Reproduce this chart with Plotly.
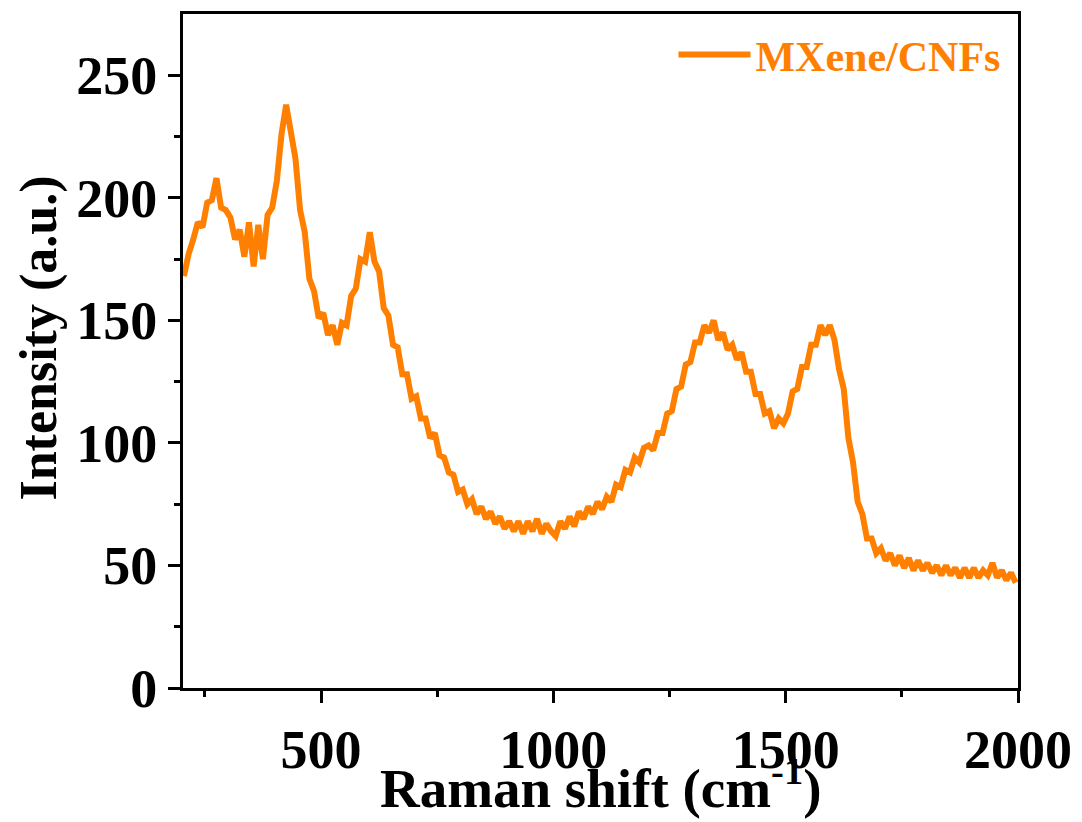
import plotly.graph_objects as go

raman_shift = list(range(205, 2005, 10))

intensity = [
    168, 177, 183, 190, 188, 198, 199, 208, 196, 195,
    192, 183, 187, 176, 190, 172, 189, 175, 193, 196,
    207, 226, 238, 228, 216, 195, 186, 167, 162, 151,
    153, 144, 148, 140, 149, 148, 160, 163, 175, 174,
    186, 174, 170, 155, 152, 140, 139, 128, 128, 118,
    119, 110, 110, 102, 104, 95, 94, 88, 87, 80,
    81, 75, 77, 71, 74, 69, 72, 67, 70, 65,
    68, 64, 68, 63, 68, 64, 69, 63, 67, 64,
    62, 68, 65, 70, 66, 72, 69, 74, 71, 76,
    73, 78, 76, 83, 82, 89, 88, 94, 92, 98,
    99, 97, 104, 104, 112, 113, 122, 123, 132, 133,
    141, 141, 148, 145, 150, 142, 145, 138, 140, 134,
    137, 129, 129, 120, 120, 112, 113, 106, 110, 108,
    112, 121, 122, 131, 131, 140, 140, 148, 144, 148,
    142, 130, 122, 102, 92, 76, 71, 61, 61, 55,
    57, 52, 55, 50, 54, 49, 53, 48, 52, 48,
    51, 47, 50, 46, 50, 46, 49, 45, 49, 45,
    49, 45, 48, 46, 51, 45, 48, 44, 47, 43,
]

x_ticks = [500, 1000, 1500, 2000]
y_ticks = [0, 50, 100, 150, 200, 250]

x_title = "<b>Raman shift (cm<sup>-1</sup>)</b>"
y_title = "<b>Intensity (a.u.)</b>"

ORANGE = "#FF8000"
FONT = "Liberation Serif"

fig = go.Figure()
fig.add_trace(go.Scatter(
    x=raman_shift, y=intensity, mode="lines",
    line=dict(color=ORANGE, width=6),
    name="<b>MXene/CNFs</b>",
))

axis_common = dict(
    showline=True, linecolor="black", linewidth=3, mirror=True,
    ticks="outside", ticklen=12, tickwidth=3, tickcolor="black",
    showgrid=False, zeroline=False, automargin=False,
    tickfont=dict(family=FONT, size=54, color="black", weight="bold"),
)

fig.update_xaxes(
    range=[203, 2000], tickvals=x_ticks, ticktext=[str(v) for v in x_ticks],
    minor=dict(tickvals=[250, 750, 1250, 1750], ticklen=6, tickwidth=3,
               tickcolor="black", ticks="outside"),
    **axis_common,
)
fig.update_yaxes(
    range=[0, 275], tickvals=y_ticks, ticktext=[str(v) for v in y_ticks],
    minor=dict(tickvals=[25, 75, 125, 175, 225], ticklen=6, tickwidth=3,
               tickcolor="black", ticks="outside"),
    **axis_common,
)

fig.add_annotation(
    text=x_title, xref="paper", yref="paper", x=0.5, y=-0.197,
    xanchor="center", yanchor="bottom", showarrow=False,
    font=dict(family=FONT, size=55, color="black"),
)
fig.add_annotation(
    text=y_title, xref="paper", yref="paper", x=-0.172, y=0.519,
    xanchor="center", yanchor="middle", showarrow=False, textangle=-90,
    font=dict(family=FONT, size=52, color="black"),
)

fig.update_layout(
    width=1082, height=822,
    margin=dict(l=183, r=64, t=14, b=134),
    paper_bgcolor="white", plot_bgcolor="white",
    showlegend=True,
    legend=dict(
        x=0.985, y=0.99, xanchor="right", yanchor="top",
        font=dict(family=FONT, size=42, color=ORANGE),
        bgcolor="rgba(0,0,0,0)", itemwidth=72,
    ),
)

fig.write_html("out.html")
